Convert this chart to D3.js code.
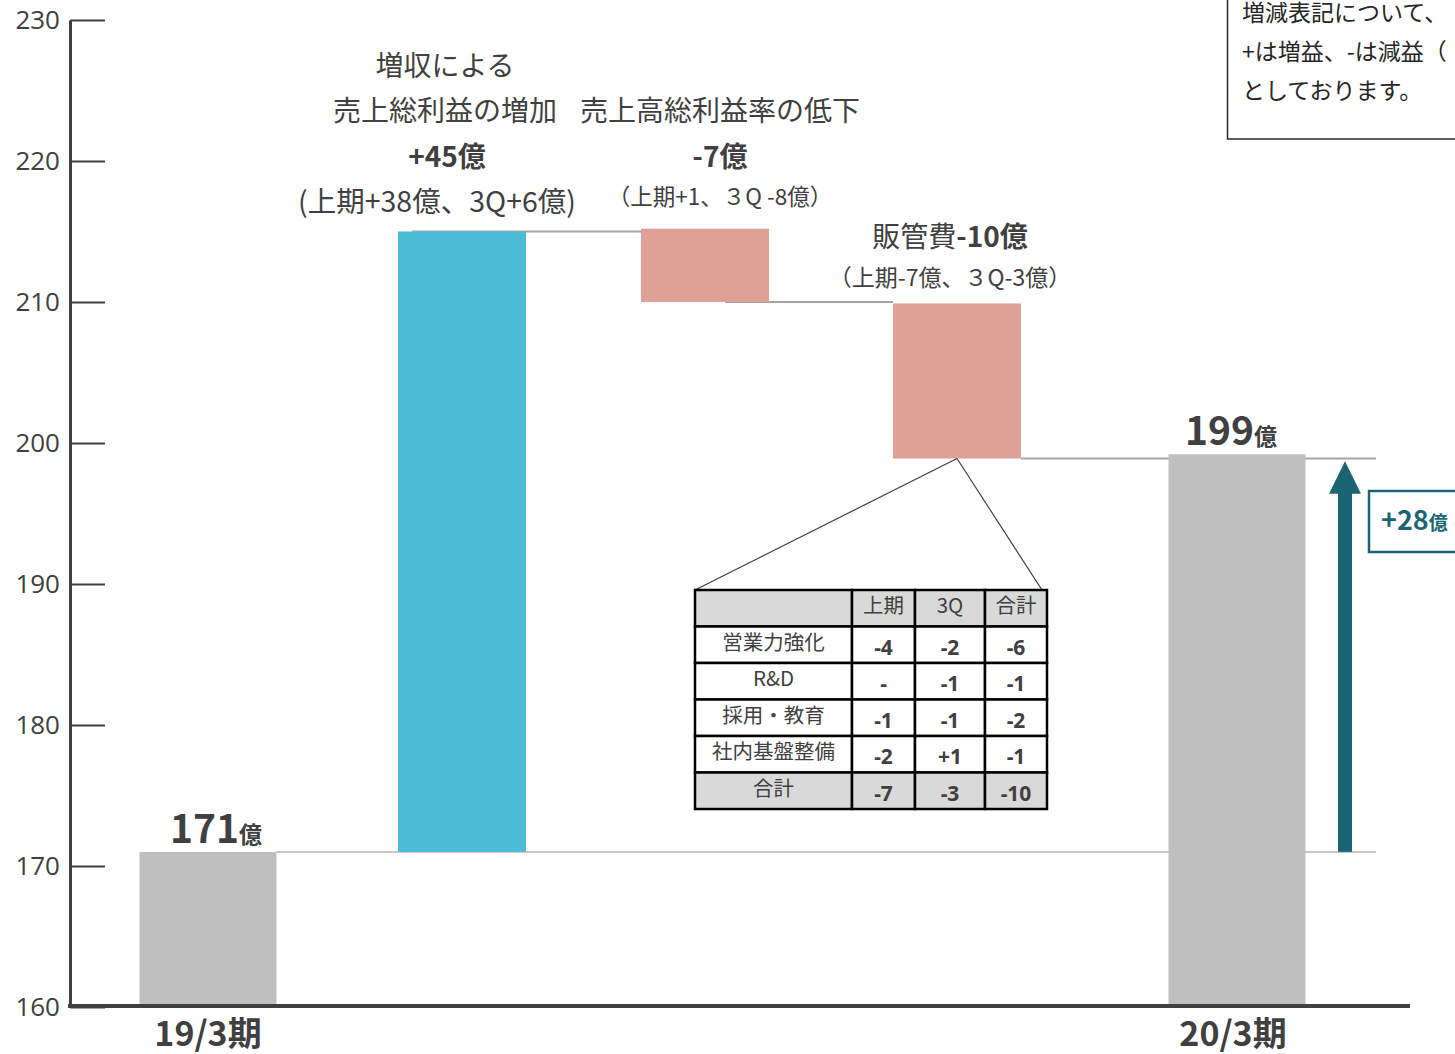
<!DOCTYPE html>
<html>
<head>
  <meta charset="utf-8">
  <script src="https://cdn.jsdelivr.net/npm/d3@7"></script>
  <style>
    body { margin: 0; background: #fff; }
    svg { font-family: "Noto Sans CJK JP", "Noto Sans", sans-serif; }
    .axis path { stroke: #404040; stroke-width: 3px; }
    .axis line { stroke: #404040; stroke-width: 2px; }
    .axis text { font-family: "Open Sans", "Noto Sans", sans-serif; font-size: 26px; fill: #404040; }
  </style>
</head>
<body>
  <div id="chart"></div>
  <script>
    // waterfall steps (億円)
    const categories = ["19/3期", "増収", "利益率", "販管費", "20/3期"];
    const lowVals = [160, 171, 210, 198.9, 160];
    const highVals = [171, 215, 215.2, 209.9, 199.2];
    const barKind = ["total", "up", "down", "down", "total"];
    const yTicks = [160, 170, 180, 190, 200, 210, 220, 230];

    const totalLabels = ["171", "199"];
    const noteLines = ["増減表記について、", "+は増益、-は減益（", "としております。"];
    const diffLabel = "+28";

    const tableHead = ["", "上期", "3Q", "合計"];
    const tableRows = ["営業力強化", "R&D", "採用・教育", "社内基盤整備", "合計"];
    const tableVals = [
      ["-4", "-2", "-6"],
      ["-", "-1", "-1"],
      ["-1", "-1", "-2"],
      ["-2", "+1", "-1"],
      ["-7", "-3", "-10"]
    ];

    const W = 1455, H = 1054;
    const svg = d3.select("#chart").append("svg").attr("width", W).attr("height", H);

    const y = d3.scaleLinear().domain([160, 230]).range([1007, 20]);
    // bar centres are not evenly spaced in the slide
    const x = d3.scaleOrdinal().domain(categories).range([208, 462, 705, 957, 1237]);
    const bwFor = i => barKind[i] === "total" ? 137 : 128;
    const left = i => x(categories[i]) - bwFor(i) / 2;
    const right = i => x(categories[i]) + bwFor(i) / 2;
    const colors = { total: "#BFBFBF", up: "#4BBBD6", down: "#DFA097" };
    const textCol = "#404040";

    // connector lines
    const conn = svg.append("g").attr("stroke", "#A6A6A6").attr("stroke-width", 2);
    conn.append("line").attr("x1", right(0)).attr("x2", 1376)
      .attr("y1", y(highVals[0])).attr("y2", y(highVals[0])).attr("stroke", "#C8C8C8");
    conn.append("line").attr("x1", x(categories[1]) - 50).attr("x2", left(2))
      .attr("y1", y(highVals[1])).attr("y2", y(highVals[1]));
    conn.append("line").attr("x1", x(categories[2]) + 20).attr("x2", left(3))
      .attr("y1", y(lowVals[2])).attr("y2", y(lowVals[2]));
    conn.append("line").attr("x1", right(3)).attr("x2", 1376)
      .attr("y1", y(lowVals[3])).attr("y2", y(lowVals[3]));

    // bars
    svg.append("g").selectAll("rect").data(categories).join("rect")
      .attr("x", (d, i) => left(i))
      .attr("width", (d, i) => bwFor(i))
      .attr("y", (d, i) => y(highVals[i]))
      .attr("height", (d, i) => y(lowVals[i]) - y(highVals[i]))
      .attr("fill", (d, i) => colors[barKind[i]]);

    // y axis
    svg.append("g").attr("class", "axis")
      .attr("transform", "translate(70,0)")
      .call(d3.axisLeft(y).tickValues(yTicks).tickSize(-35).tickSizeOuter(0).tickPadding(10));

    // x baseline
    svg.append("line").attr("x1", 68).attr("x2", 1410).attr("y1", 1006).attr("y2", 1006)
      .attr("stroke", textCol).attr("stroke-width", 4);

    // category labels
    [0, 4].forEach(i => {
      svg.append("text").attr("x", x(categories[i]) + (i === 4 ? -4 : 0)).attr("y", 1046)
        .attr("text-anchor", "middle").attr("font-size", 34).attr("font-weight", "bold")
        .attr("fill", textCol).text(categories[i]);
    });

    // total value labels
    [0, 4].forEach((i, k) => {
      const t = svg.append("text").attr("x", x(categories[i]) + (i === 4 ? -6 : 8))
        .attr("y", y(highVals[i]) - 9)
        .attr("text-anchor", "middle").attr("font-weight", "bold").attr("fill", textCol);
      t.append("tspan").attr("font-size", 39).text(totalLabels[k]);
      t.append("tspan").attr("font-size", 23).text("億");
    });

    // annotations
    const ann = (tx, ty, size, txt, bold) => svg.append("text").attr("x", tx).attr("y", ty)
      .attr("text-anchor", "middle").attr("font-size", size).attr("fill", textCol)
      .attr("font-weight", bold ? "bold" : "normal").text(txt);
    ann(445, 76, 28, "増収による");
    ann(445, 121, 28, "売上総利益の増加");
    ann(720, 121, 28, "売上高総利益率の低下");
    ann(447, 167, 28, "+45億", true);
    ann(720, 167, 28, "-7億", true);
    ann(437, 212, 28.5, "(上期+38億、3Q+6億)");
    ann(720, 205, 22.5, "（上期+1、３Q -8億）");
    const sga = ann(950, 247, 28, "販管費");
    sga.append("tspan").attr("font-weight", "bold").text("-10億");
    ann(950, 286, 23, "（上期-7億、３Q-3億）");

    // note box (top right)
    svg.append("rect").attr("x", 1227.5).attr("y", -5).attr("width", 240).attr("height", 144)
      .attr("fill", "#fff").attr("stroke", "#262626").attr("stroke-width", 1.5);
    svg.append("g").selectAll("text").data(noteLines).join("text")
      .attr("x", 1242).attr("y", (d, i) => 21 + i * 39)
      .attr("font-size", 23).attr("fill", "#262626").text(d => d);

    // +28 arrow
    const teal = "#1B6474";
    const ax = 1345;
    svg.append("rect").attr("x", ax - 7).attr("width", 14)
      .attr("y", y(196.5)).attr("height", y(highVals[0]) - y(196.5)).attr("fill", teal);
    svg.append("path").attr("fill", teal)
      .attr("d", `M${ax - 16},${y(196.4)} L${ax},${y(198.7)} L${ax + 16},${y(196.4)} Z`);
    svg.append("rect").attr("x", 1369).attr("y", 491).attr("width", 100).attr("height", 61)
      .attr("fill", "#fff").attr("stroke", teal).attr("stroke-width", 2.5);
    const d28 = svg.append("text").attr("x", 1381).attr("y", 530).attr("fill", teal)
      .attr("font-weight", "bold");
    d28.append("tspan").attr("font-size", 27).text(diffLabel);
    d28.append("tspan").attr("font-size", 19).text("億");

    // callout lines to table
    const tipX = x(categories[3]), tipY = y(lowVals[3]);
    const tl = 695, tt = 590;
    const colW = [157, 63, 70, 62];
    const rowH = 36.5;
    const tw = d3.sum(colW);
    svg.append("g").attr("stroke", "#404040").attr("stroke-width", 1.2)
      .selectAll("line").data([tl, tl + tw - 5]).join("line")
      .attr("x1", tipX).attr("y1", tipY).attr("x2", d => d).attr("y2", tt);

    // table
    const colX = [tl];
    colW.forEach((w, i) => colX.push(colX[i] + w));
    const allRows = [tableHead].concat(tableRows.map((r, i) => [r].concat(tableVals[i])));
    const tg = svg.append("g");
    allRows.forEach((row, ri) => {
      const grey = ri === 0 || ri === allRows.length - 1;
      row.forEach((cell, ci) => {
        tg.append("rect").attr("x", colX[ci]).attr("y", tt + ri * rowH)
          .attr("width", colW[ci]).attr("height", rowH)
          .attr("fill", grey ? "#D9D9D9" : "#fff").attr("stroke", "#000").attr("stroke-width", 2.5);
        const isVal = ri > 0 && ci > 0;
        tg.append("text").attr("x", colX[ci] + colW[ci] / 2)
          .attr("y", tt + ri * rowH + (isVal ? 28 : 23))
          .attr("text-anchor", "middle").attr("fill", textCol)
          .attr("font-size", isVal ? 21 : 20.5)
          .attr("font-weight", isVal ? "bold" : "normal")
          .attr("font-family", isVal ? "'Liberation Sans Narrow', 'Noto Sans', sans-serif" : null)
          .text(cell);
      });
    });
  </script>
</body>
</html>
